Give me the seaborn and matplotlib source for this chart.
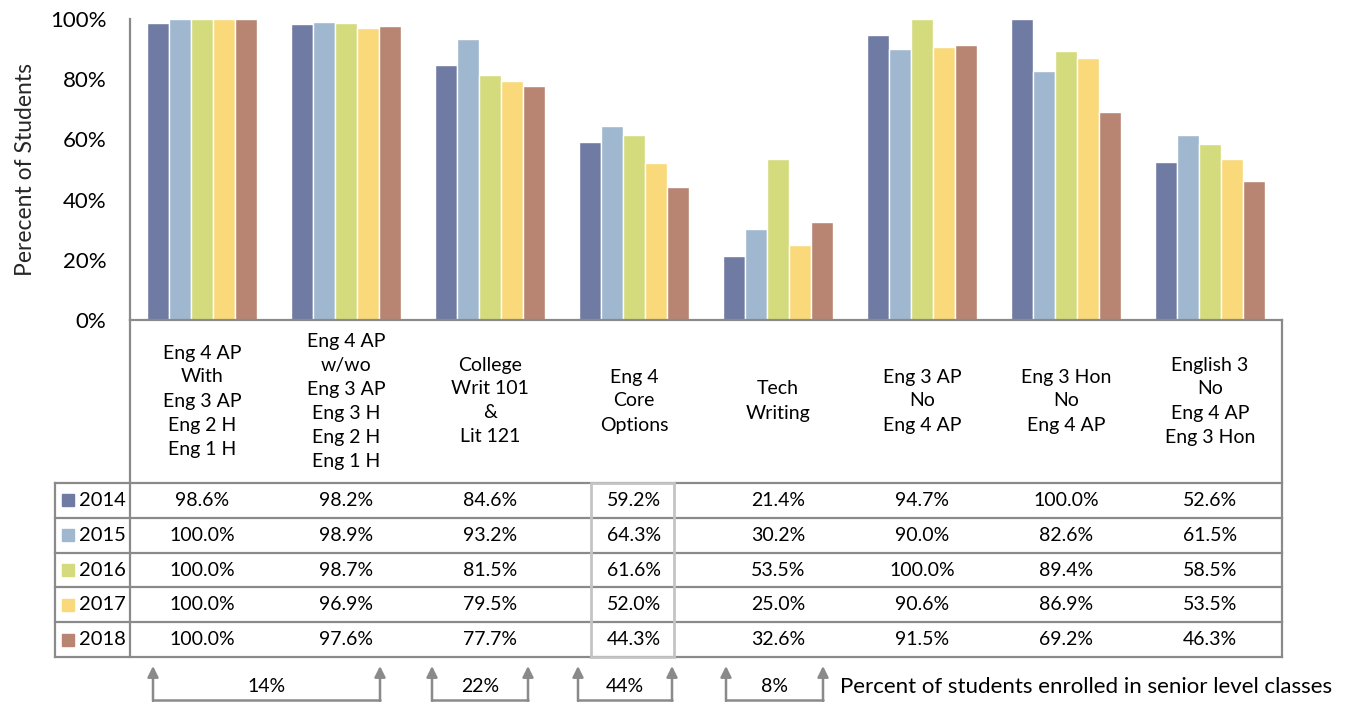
import numpy as np
import pandas as pd
import matplotlib.pyplot as plt
import seaborn as sns
from matplotlib.patches import Rectangle

# course groups (header of the data table)
courses = ["Eng 4 AP\nWith\nEng 3 AP\nEng 2 H\nEng 1 H",
           "Eng 4 AP\nw/wo\nEng 3 AP\nEng 3 H\nEng 2 H\nEng 1 H",
           "College\nWrit 101\n&\nLit 121",
           "Eng 4\nCore\nOptions",
           "Tech\nWriting",
           "Eng 3 AP\nNo\nEng 4 AP",
           "Eng 3 Hon\nNo\nEng 4 AP",
           "English 3\nNo\nEng 4 AP\nEng 3 Hon"]
years = ["2014", "2015", "2016", "2017", "2018"]
pct_2014 = [98.6, 98.2, 84.6, 59.2, 21.4, 94.7, 100.0, 52.6]
pct_2015 = [100.0, 98.9, 93.2, 64.3, 30.2, 90.0, 82.6, 61.5]
pct_2016 = [100.0, 98.7, 81.5, 61.6, 53.5, 100.0, 89.4, 58.5]
pct_2017 = [100.0, 96.9, 79.5, 52.0, 25.0, 90.6, 86.9, 53.5]
pct_2018 = [100.0, 97.6, 77.7, 44.3, 32.6, 91.5, 69.2, 46.3]
senior_share = ["14%", "22%", "44%", "8%"]

colors = ["#6f7ba2", "#a0b8cf", "#d4db7c", "#f9d97a", "#b78572"]

series = [pct_2014, pct_2015, pct_2016, pct_2017, pct_2018]
df = pd.DataFrame([(c, y, v) for y, vals in zip(years, series)
                   for c, v in zip(courses, vals)],
                  columns=["course", "year", "pct"])

sns.set_style("white")
plt.rcParams['font.family'] = ['Lato', 'DejaVu Sans']
plt.rcParams['text.color'] = '#000000'
plt.rcParams['ytick.color'] = '#000000'

W, H = 1346, 702
fig = plt.figure(figsize=(W / 100, H / 100), dpi=100)


def box(l, t, r, b):
    return [l / W, 1 - b / H, (r - l) / W, (b - t) / H]


def xd(p):
    # figure pixel -> category units (columns are 144 px wide, start at 130)
    return (p - 130) / 144 - 0.5


grey = "#8a8a8a"
fs = 14

ax = fig.add_axes(box(130, 19, 1282, 320))
sns.barplot(data=df, x="course", y="pct", hue="year", order=courses,
            hue_order=years, palette=colors, saturation=1, width=0.77,
            legend=False, ax=ax)
ax.set_xlim(-0.5, 7.5)
ax.set_ylim(0, 100)
ax.set_yticks(range(0, 101, 20))
ax.set_yticklabels([f"{t}%" for t in range(0, 101, 20)])
ax.set_xticks([])
ax.set_xlabel("")
ax.set_ylabel("Perecent of Students", fontsize=16.5, labelpad=10)
ax.tick_params(axis="y", length=8, width=1.5, color=grey, labelsize=16,
               labelcolor="black", pad=9)
for s in ["top", "right"]:
    ax.spines[s].set_visible(False)
for s in ["left", "bottom"]:
    ax.spines[s].set_color(grey)
    ax.spines[s].set_linewidth(1.6)

# data table under the bars
tab = fig.add_axes(box(130, 320, 1282, 657))
tab.set_xlim(-0.5, 7.5)
tab.set_ylim(337, 0)
tab.axis("off")
header_h = 163
row_h = (337 - header_h) / 5
x_left = xd(55)

kw = dict(color=grey, lw=1.6, clip_on=False, solid_capstyle="projecting")
for i in range(6):
    y = header_h + i * row_h
    tab.plot([x_left, 7.5], [y, y], **kw)
tab.plot([-0.5, -0.5], [0, 337], **kw)
tab.plot([7.5, 7.5], [0, 337], **kw)
tab.plot([x_left, x_left], [header_h, 337], **kw)
tab.add_patch(Rectangle((3 - 0.3, header_h), 0.58, 5 * row_h, fill=False,
                        edgecolor="#c4c4c4", lw=2, clip_on=False, zorder=3))

for i, c in enumerate(courses):
    tab.text(i, 81, c, ha="center", va="center", fontsize=fs, linespacing=1.5)

for r, (y, vals, col) in enumerate(zip(years, series, colors)):
    yc = header_h + (r + 0.5) * row_h
    tab.plot([xd(68)], [yc], marker="s", ms=9, color=col, clip_on=False)
    tab.text(xd(79), yc, y, ha="left", va="center", fontsize=14.5)
    for i, v in enumerate(vals):
        tab.text(i, yc, f"{v:.1f}%", ha="center", va="center", fontsize=fs)

# brackets: share of students enrolled in senior level classes
brackets = [(xd(153), xd(380)), (xd(432), xd(528)),
            (xd(578), xd(672)), (xd(726), xd(823))]
for (x0, x1), lab in zip(brackets, senior_share):
    tab.plot([x0, x1], [380, 380], color=grey, lw=1.8, clip_on=False)
    for xx in (x0, x1):
        tab.annotate("", xy=(xx, 346), xytext=(xx, 381),
                     arrowprops=dict(arrowstyle="-|>", color=grey, lw=1.8,
                                     mutation_scale=16, shrinkA=0, shrinkB=0),
                     annotation_clip=False)
    tab.text((x0 + x1) / 2, 367, lab, ha="center", va="center", fontsize=fs)
tab.text(xd(840), 367, "Percent of students enrolled in senior level classes",
         ha="left", va="center", fontsize=16)

fig.savefig("out.png", dpi=100)
